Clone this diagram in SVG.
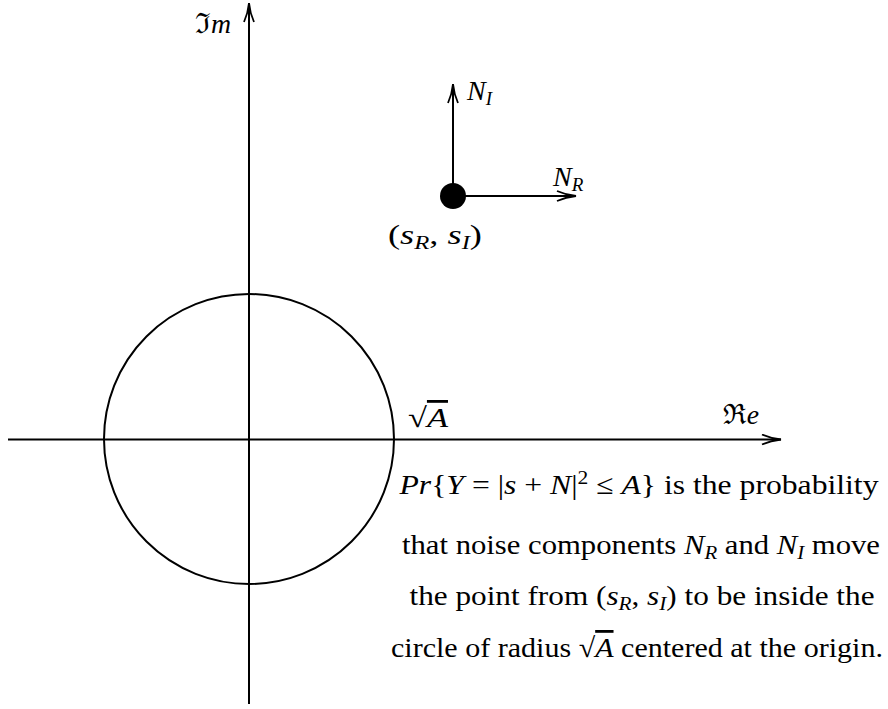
<svg xmlns="http://www.w3.org/2000/svg" width="888" height="709" viewBox="0 0 888 709">
<style>
  .ln { stroke:#000; stroke-width:2; fill:none }
  .t { font-family:"Liberation Serif","DejaVu Serif",serif; font-size:28px; fill:#000 }
  .i { font-style:italic }
  .sb { font-size:19px; font-style:italic }
  .sup { font-size:19px }
  .fr { font-family:"DejaVu Serif",serif }
</style>
<defs>
  <marker id="arr" viewBox="0 0 22 12" refX="21" refY="6" markerWidth="22" markerHeight="12" markerUnits="userSpaceOnUse" orient="auto">
    <path d="M2,1 Q11,5 21,6 Q11,7 2,11" fill="none" stroke="#000" stroke-width="1.8"/>
  </marker>
</defs>
<rect width="888" height="709" fill="#fff"/>
<g id="connectors">
  <line class="ln" x1="249" y1="704" x2="249" y2="3" marker-end="url(#arr)"/>
  <line class="ln" x1="8" y1="439.5" x2="781" y2="439.5" marker-end="url(#arr)"/>
  <line class="ln" x1="453" y1="196" x2="453" y2="84" marker-end="url(#arr)"/>
  <line class="ln" x1="453" y1="196" x2="576" y2="196" marker-end="url(#arr)"/>
</g>
<g id="circle-node">
  <circle class="ln" cx="249" cy="439" r="145"/>
</g>
<g id="point-node">
  <circle cx="453" cy="196" r="13" fill="#000"/>
  <text class="t" x="388" y="244" textLength="94" lengthAdjust="spacingAndGlyphs">(<tspan class="i">s</tspan><tspan class="sb" dy="5">R</tspan><tspan dy="-5">, </tspan><tspan class="i">s</tspan><tspan class="sb" dy="5">I</tspan><tspan dy="-5">)</tspan></text>
</g>
<g id="label-im">
  <text class="t" x="195" y="33" textLength="36" lengthAdjust="spacingAndGlyphs"><tspan class="fr">ℑ</tspan><tspan class="i">m</tspan></text>
</g>
<g id="label-re">
  <text class="t" x="723" y="424" textLength="36" lengthAdjust="spacingAndGlyphs"><tspan class="fr">ℜ</tspan><tspan class="i">e</tspan></text>
</g>
<g id="label-ni">
  <text class="t" x="467" y="100"><tspan class="i">N</tspan><tspan class="sb" dy="5">I</tspan></text>
</g>
<g id="label-nr">
  <text class="t" x="553" y="186"><tspan class="i">N</tspan><tspan class="sb" dy="5">R</tspan></text>
</g>
<g id="label-sqrta">
  <text class="t" x="408" y="427" textLength="40" lengthAdjust="spacingAndGlyphs">√<tspan class="i" text-decoration="overline">A</tspan></text>
</g>
<g id="caption">
  <text class="t" x="639" y="494" text-anchor="middle" textLength="479" lengthAdjust="spacingAndGlyphs"><tspan class="i">Pr</tspan>{<tspan class="i">Y</tspan> = |<tspan class="i">s</tspan> + <tspan class="i">N</tspan>|<tspan class="sup" dy="-10">2</tspan><tspan dy="10"> ≤ </tspan><tspan class="i">A</tspan>} is the probability</text>
  <text class="t" x="641" y="554" text-anchor="middle" textLength="478" lengthAdjust="spacingAndGlyphs">that noise components <tspan class="i">N</tspan><tspan class="sb" dy="5">R</tspan><tspan dy="-5"> and </tspan><tspan class="i">N</tspan><tspan class="sb" dy="5">I</tspan><tspan dy="-5"> move</tspan></text>
  <text class="t" x="642" y="605" text-anchor="middle" textLength="465" lengthAdjust="spacingAndGlyphs">the point from (<tspan class="i">s</tspan><tspan class="sb" dy="5">R</tspan><tspan dy="-5">, </tspan><tspan class="i">s</tspan><tspan class="sb" dy="5">I</tspan><tspan dy="-5">) to be inside the</tspan></text>
  <text class="t" x="637" y="657" text-anchor="middle" textLength="492" lengthAdjust="spacingAndGlyphs">circle of radius √<tspan class="i" text-decoration="overline">A</tspan> centered at the origin.</text>
</g>
</svg>
